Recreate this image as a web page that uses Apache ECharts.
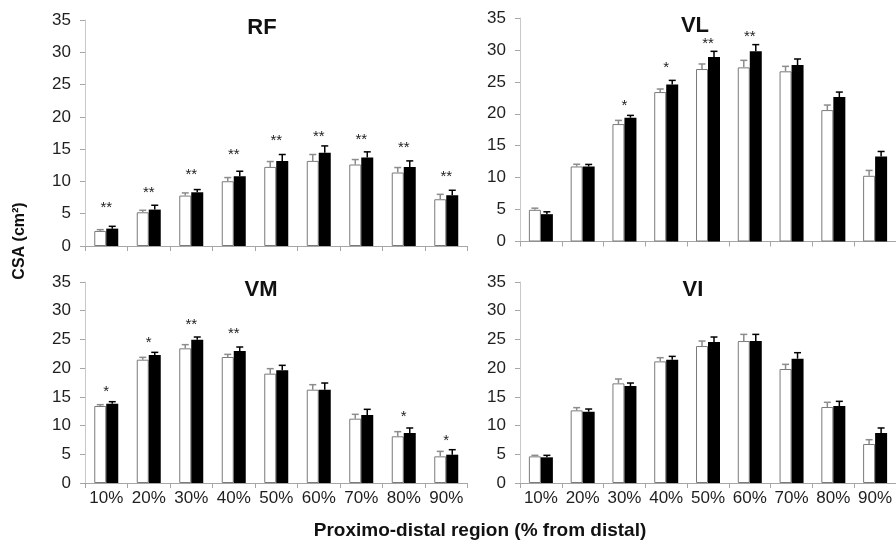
<!DOCTYPE html>
<html>
<head>
<meta charset="utf-8">
<script src="https://cdn.jsdelivr.net/npm/echarts@6/dist/echarts.min.js"></script>
<style>
  html, body { margin: 0; padding: 0; background: #fff; overflow: hidden; }
  #csa-chart { width: 896px; height: 546px; }
</style>
</head>
<body>
<div id="csa-chart"></div>
<script>
var categories = ['10%', '20%', '30%', '40%', '50%', '60%', '70%', '80%', '90%'];
var yTicks = { min: 0, max: 35, step: 5 };

// RF
var rfPre = [2.33, 5.22, 7.81, 10.03, 12.25, 13.18, 12.62, 11.38, 7.24];
var rfPreErr = [0.2, 0.31, 0.41, 0.57, 0.83, 0.99, 0.77, 0.77, 0.76];
var rfPost = [2.69, 5.64, 8.32, 10.81, 13.18, 14.43, 13.7, 12.25, 7.86];
var rfPostErr = [0.36, 0.67, 0.42, 0.77, 0.99, 1.07, 0.88, 0.93, 0.77];
var rfStars = ['**', '**', '**', '**', '**', '**', '**', '**', '**'];
var rfStarY = [6.3, 8.74, 11.48, 14.58, 16.8, 17.42, 16.9, 15.6, 11.1];

// VL
var vlPre = [4.96, 11.75, 18.39, 23.4, 27.01, 27.27, 26.65, 20.58, 10.29];
var vlPreErr = [0.26, 0.35, 0.58, 0.48, 0.79, 1.1, 0.78, 0.79, 0.84];
var vlPost = [4.28, 11.75, 19.38, 24.6, 28.89, 29.78, 27.64, 22.62, 13.32];
var vlPostErr = [0.37, 0.32, 0.37, 0.63, 0.89, 1.05, 0.94, 0.78, 0.78];
var vlStars = ['', '', '*', '*', '**', '**', '', '', ''];
var vlStarY = [null, null, 21.68, 27.69, 31.35, 32.55, null, null, null];

// VM
var vmPre = [13.41, 21.47, 23.45, 21.94, 19.04, 16.25, 11.2, 8.13, 4.64];
var vmPreErr = [0.23, 0.41, 0.64, 0.46, 0.87, 0.87, 0.76, 0.81, 0.87];
var vmPost = [13.81, 22.29, 24.96, 22.98, 19.62, 16.25, 11.84, 8.71, 4.93];
var vmPostErr = [0.35, 0.46, 0.46, 0.7, 0.87, 1.16, 0.99, 0.87, 0.87];
var vmStars = ['*', '*', '**', '**', '', '', '', '*', '*'];
var vmStarY = [16.42, 24.96, 28.03, 26.47, null, null, null, 11.96, 7.84];

// VI
var viPre = [4.64, 12.65, 17.35, 21.18, 23.85, 24.72, 19.85, 13.23, 6.79];
var viPreErr = [0.18, 0.47, 0.76, 0.64, 0.87, 1.16, 0.81, 0.82, 0.75];
var viPost = [4.47, 12.42, 16.89, 21.47, 24.55, 24.72, 21.65, 13.41, 8.71];
var viPostErr = [0.35, 0.46, 0.52, 0.58, 0.87, 1.16, 1.04, 0.81, 0.87];
var viStars = ['', '', '', '', '', '', '', '', ''];
var viStarY = [null, null, null, null, null, null, null, null, null];

var panels = [
  { name: 'RF', pre: rfPre, preErr: rfPreErr, post: rfPost, postErr: rfPostErr, stars: rfStars, starY: rfStarY,
    grid: { left: 85, top: 20, width: 382.5, height: 226 }, title: [262, 28], labels: false },
  { name: 'VL', pre: vlPre, preErr: vlPreErr, post: vlPost, postErr: vlPostErr, stars: vlStars, starY: vlStarY,
    grid: { left: 520, top: 18, width: 381, height: 223.5 }, title: [695, 26], labels: false },
  { name: 'VM', pre: vmPre, preErr: vmPreErr, post: vmPost, postErr: vmPostErr, stars: vmStars, starY: vmStarY,
    grid: { left: 85, top: 282, width: 382.5, height: 201 }, title: [261, 290], labels: true },
  { name: 'VI', pre: viPre, preErr: viPreErr, post: viPost, postErr: viPostErr, stars: viStars, starY: viStarY,
    grid: { left: 520, top: 282, width: 381, height: 201 }, title: [693, 290], labels: true }
];

var FONT = '"Liberation Sans", Arial, Helvetica, sans-serif';
var BAR_W = 12;

function errorBars(side, lineColor) {
  return function (params, api) {
    var idx = api.value(0);
    var top = api.value(1);
    var err = api.value(2);
    var p0 = api.coord([idx, top]);
    var p1 = api.coord([idx, top + err]);
    var x = p0[0] + side * BAR_W / 2;
    var style = { stroke: lineColor, lineWidth: 1.5 };
    return {
      type: 'group',
      children: [
        { type: 'line', shape: { x1: x, y1: p0[1], x2: x, y2: p1[1] }, style: style },
        { type: 'line', shape: { x1: x - 3.5, y1: p1[1], x2: x + 3.5, y2: p1[1] }, style: style }
      ]
    };
  };
}

function starText(stars) {
  return function (params, api) {
    var idx = api.value(0);
    var txt = stars[idx];
    if (!txt) return null;
    var p = api.coord([idx, api.value(1)]);
    return {
      type: 'text',
      style: {
        text: txt, x: p[0], y: p[1] + 3,
        align: 'center', verticalAlign: 'middle',
        font: '15px ' + FONT, fill: '#222'
      }
    };
  };
}

var grids = [], xAxes = [], yAxes = [], series = [], graphics = [];

panels.forEach(function (p, k) {
  grids.push(p.grid);
  xAxes.push({
    type: 'category', gridIndex: k, data: categories,
    axisLine: { lineStyle: { color: '#a6a6a6', width: 1 } },
    axisTick: { show: true, interval: 0, length: 5, lineStyle: { color: '#a6a6a6' } },
    axisLabel: { show: p.labels, interval: 0, margin: 7, fontSize: 17, fontFamily: FONT, color: '#1f1f1f' },
    splitLine: { show: false }
  });
  yAxes.push({
    type: 'value', gridIndex: k, min: yTicks.min, max: yTicks.max, interval: yTicks.step,
    axisLine: { show: true, lineStyle: { color: '#c8c8c8', width: 1 } },
    axisTick: { show: true, length: 5, lineStyle: { color: '#a6a6a6' } },
    axisLabel: { margin: 14, fontSize: 17, fontFamily: FONT, color: '#1f1f1f' },
    splitLine: { show: false }
  });
  series.push({
    type: 'bar', xAxisIndex: k, yAxisIndex: k, data: p.pre,
    barWidth: BAR_W, barGap: '0%',
    itemStyle: { color: '#ffffff', borderColor: '#7a7a7a', borderWidth: 1 },
    silent: true, animation: false
  });
  series.push({
    type: 'bar', xAxisIndex: k, yAxisIndex: k, data: p.post,
    barWidth: BAR_W, barGap: '0%',
    itemStyle: { color: '#000000' },
    silent: true, animation: false
  });
  series.push({
    type: 'custom', xAxisIndex: k, yAxisIndex: k, z: 5,
    renderItem: errorBars(-1, '#8c8c8c'),
    data: p.pre.map(function (v, i) { return [i, v, p.preErr[i]]; }),
    silent: true, animation: false
  });
  series.push({
    type: 'custom', xAxisIndex: k, yAxisIndex: k, z: 5,
    renderItem: errorBars(1, '#000000'),
    data: p.post.map(function (v, i) { return [i, v, p.postErr[i]]; }),
    silent: true, animation: false
  });
  series.push({
    type: 'custom', xAxisIndex: k, yAxisIndex: k, z: 6,
    renderItem: starText(p.stars),
    data: p.starY.map(function (v, i) { return [i, v == null ? 0 : v]; }),
    silent: true, animation: false
  });
  graphics.push({
    type: 'text', x: p.title[0], y: p.title[1],
    style: { text: p.name, align: 'center', verticalAlign: 'middle', font: 'bold 22px ' + FONT, fill: '#111' }
  });
});

graphics.push({
  type: 'text', x: 20, y: 241, rotation: Math.PI / 2,
  style: { text: 'CSA (cm²)', align: 'center', verticalAlign: 'middle', font: 'bold 16px ' + FONT, fill: '#111' }
});
graphics.push({
  type: 'text', x: 480, y: 531,
  style: { text: 'Proximo-distal region (% from distal)', align: 'center', verticalAlign: 'middle', font: 'bold 19px ' + FONT, fill: '#111' }
});

var myChart = echarts.init(document.getElementById('csa-chart'));
myChart.setOption({
  animation: false,
  backgroundColor: '#ffffff',
  grid: grids,
  xAxis: xAxes,
  yAxis: yAxes,
  series: series,
  graphic: graphics
});
</script>
</body>
</html>
